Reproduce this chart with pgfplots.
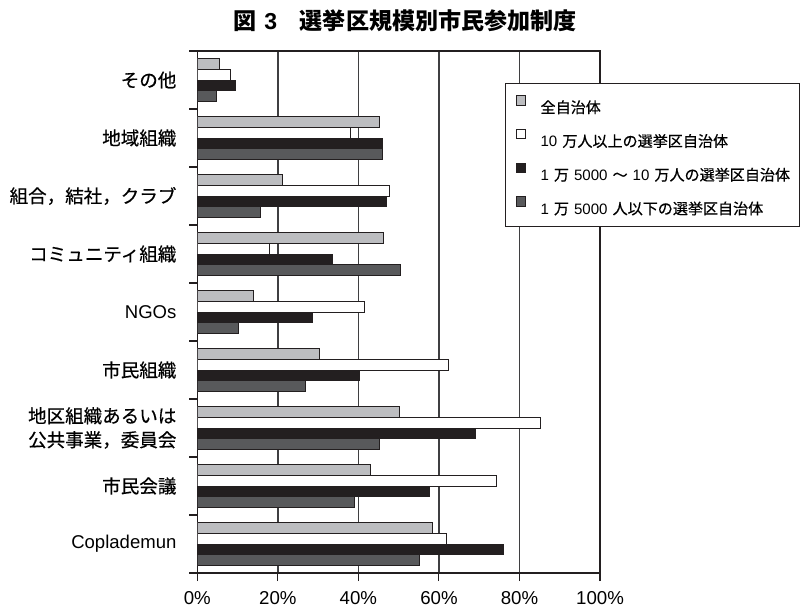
\documentclass[border=0pt]{standalone}
\usepackage{fontspec}
\setmainfont{Liberation Sans}
\newfontfamily\jp{Noto Sans CJK JP}[FakeBold=0.5]
\newfontfamily\jptitle{Noto Sans CJK JP}
\usepackage{pgfplots}
\pgfplotsset{compat=1.18}

\definecolor{barlight}{HTML}{BCBDC0}
\definecolor{bardark}{HTML}{58595B}
\definecolor{barblack}{HTML}{231F20}
\definecolor{inkline}{HTML}{231F20}
\definecolor{gridcol}{HTML}{3F3F41}

\begin{document}
\begin{tikzpicture}
\begin{axis}[
  at={(0,0)}, anchor=south west,
  scale only axis, width=302pt, height=391.5pt,
  xbar=0pt, bar width=8.2pt,
  xmin=0, xmax=100, ymin=-0.5, ymax=8.5, y dir=reverse,
  xtick={0,20,40,60,80,100},
  xticklabels={0\%,20\%,40\%,60\%,80\%,100\%},
  ytick={0,1,2,3,4,5,6,7,8},
  yticklabels={
    {\jp その他},
    {\jp 地域組織},
    {\jp 組合，結社，クラブ},
    {\jp コミュニティ組織},
    {NGOs},
    {\jp 市民組織},
    {\jp 地区組織あるいは}\\{\jp 公共事業，委員会},
    {\jp 市民会議},
    {Coplademun}},
  minor ytick={-0.5,0.5,...,8.5},
  major y tick style={draw=none},
  tick align=outside,
  xtick pos=bottom, ytick pos=left,
  major tick length=6pt, minor tick length=6pt,
  tick style={inkline, line width=0.8pt},
  axis line style={inkline, line width=0.8pt},
  xmajorgrids,
  grid style={gridcol, line width=1pt},
  xticklabel style={font=\fontsize{14}{16}\selectfont, inner sep=0pt, anchor=north, yshift=-7.7pt},
  yticklabel style={font=\fontsize{13.9}{18}\selectfont, align=right, inner sep=0pt, anchor=east, xshift=-9.5pt},
  every axis plot/.append style={draw=inkline, line width=0.75pt},
  every axis plot post/.append style={
    legend image code/.code={
      \path[draw=none, fill=none] (0pt,0pt) -- (24.75pt,0pt);
      \draw[##1, line width=0.75pt] (6.5pt,0.5pt) rectangle (13.6pt,7.6pt);
    }},
  legend cell align=left,
  legend style={
    at={(0.7642,0.9387)}, anchor=north west,
    draw=inkline, line width=0.8pt, fill=white,
    inner xsep=1.5pt, inner ysep=8.7pt, row sep=11.4pt,
    font=\fontsize{11.3}{13}\selectfont,
    nodes={inner sep=0pt, text height=11.35pt, text depth=0.5pt, text width=192.75pt, align=left},
  },
]
% 全自治体
\addplot[fill=barlight, bar shift=12.3pt] coordinates {
  (5.6,0) (45.3,1) (21.2,2) (46.3,3) (13.9,4) (30.4,5) (50.1,6) (42.9,7) (58.4,8)};
\addlegendentry{{\jp 全自治体}}
% 10万人以上
\addplot[fill=white, bar shift=4.1pt] coordinates {
  (8.2,0) (38.1,1) (47.6,2) (17.9,3) (41.6,4) (62.5,5) (85.1,6) (74.2,7) (61.9,8)};
\addlegendentry{10 {\jp 万人以上の選挙区自治体}}
% 1万5000～10万人
\addplot[fill=barblack, bar shift=-4.1pt] coordinates {
  (9.5,0) (46.1,1) (46.9,2) (33.5,3) (28.7,4) (40.3,5) (69.0,6) (57.7,7) (76.1,8)};
\addlegendentry{1 {\jp 万} 5000 {\jp ～} 10 {\jp 万人の選挙区自治体}}
% 1万5000人以下
\addplot[fill=bardark, bar shift=-12.3pt] coordinates {
  (4.7,0) (45.9,1) (15.6,2) (50.4,3) (10.3,4) (26.9,5) (45.3,6) (39.0,7) (55.1,8)};
\addlegendentry{1 {\jp 万} 5000 {\jp 人以下の選挙区自治体}}
\end{axis}
\node[anchor=west, inner sep=0pt, font=\fontsize{17.3}{20}\selectfont\bfseries]
  at (26.8pt,414pt) {{\jptitle 図}\hspace{6pt}3\hspace{17pt}{\jptitle 選挙区規模別市民参加制度}};
\pgfresetboundingbox
\path (-148pt,-26.25pt) rectangle (452pt,429.75pt);
\end{tikzpicture}
\end{document}
